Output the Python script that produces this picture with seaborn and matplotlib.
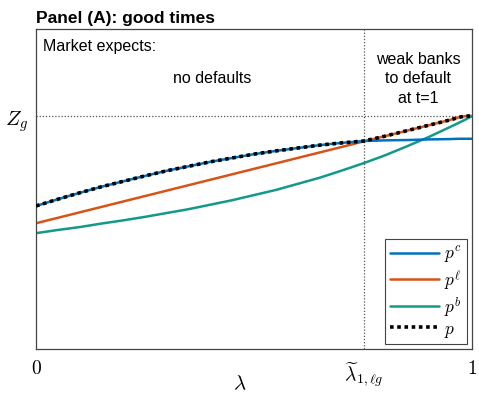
import matplotlib
matplotlib.use("Agg")
import matplotlib.pyplot as plt
import seaborn as sns

# lambda grid and price curves
lam = [0.0, 0.05, 0.1, 0.15, 0.2, 0.25, 0.3, 0.35, 0.4, 0.45, 0.5, 0.55, 0.6, 0.65, 0.7,
       0.752, 0.8, 0.85, 0.9, 0.95, 0.97, 0.985, 1.0]
p_c = [0.447, 0.468, 0.488, 0.507, 0.524, 0.541, 0.557, 0.571, 0.585, 0.597, 0.609, 0.619,
       0.628, 0.637, 0.644, 0.650, 0.652, 0.653, 0.655, 0.656, 0.657, 0.657, 0.657]
p_l = [0.393, 0.410, 0.427, 0.444, 0.461, 0.478, 0.495, 0.512, 0.529, 0.546, 0.563, 0.580,
       0.597, 0.614, 0.631, 0.649, 0.665, 0.682, 0.699, 0.716, 0.724, 0.728, 0.728]
p_b = [0.362, 0.372, 0.381, 0.392, 0.402, 0.413, 0.425, 0.437, 0.451, 0.465, 0.481, 0.497,
       0.516, 0.535, 0.557, 0.581, 0.605, 0.633, 0.662, 0.694, 0.707, 0.717, 0.728]
p = [0.447, 0.468, 0.488, 0.507, 0.524, 0.541, 0.557, 0.571, 0.585, 0.597, 0.609, 0.619,
     0.628, 0.637, 0.644, 0.650, 0.665, 0.682, 0.699, 0.716, 0.724, 0.728, 0.728]

z_g = 0.728
lam_tilde = 0.752

sns.set_style("white")
plt.rcParams["mathtext.fontset"] = "cm"
plt.rcParams["font.family"] = ["Liberation Sans", "DejaVu Sans"]
plt.rcParams["text.color"] = "black"
plt.rcParams["xtick.color"] = "black"
plt.rcParams["ytick.color"] = "black"
plt.rcParams["axes.labelcolor"] = "black"

fig = plt.figure(figsize=(4.79, 4.06), dpi=100)
ax = fig.add_axes([0.0752, 0.1379, 0.9102, 0.7882])

ax.axhline(z_g, color="#555555", linestyle=(0, (1, 1.5)), linewidth=0.9, zorder=1)
ax.axvline(lam_tilde, color="#555555", linestyle=(0, (1, 1.5)), linewidth=0.9, zorder=1)

sns.lineplot(x=lam, y=p_c, ax=ax, color="#0072BD", linewidth=1.8, label=r"$p^c$", zorder=3)
sns.lineplot(x=lam, y=p_l, ax=ax, color="#D95319", linewidth=1.8, label=r"$p^\ell$", zorder=2)
sns.lineplot(x=lam, y=p_b, ax=ax, color="#13998A", linewidth=1.8, label=r"$p^b$", zorder=2)
sns.lineplot(x=lam, y=p, ax=ax, color="black", linewidth=2.6, linestyle=(0, (1, 1)),
             label=r"$p$", zorder=4)

ax.set_xlim(0, 1)
ax.set_ylim(0, 1)
ax.set_xticks([0, lam_tilde, 1])
ax.set_xticklabels([r"$0$", r"$\widetilde{\lambda}_{1,\ell g}$", r"$1$"], fontsize=14)
ax.set_yticks([z_g])
ax.set_yticklabels([r"$Z_g$"], fontsize=15)
ax.tick_params(axis="x", length=0, pad=7)
ax.tick_params(axis="y", length=0, pad=6)
ax.set_xlabel("")
fig.text(0.5, 0.054, r"$\lambda$", fontsize=15, ha="center", va="center")

for s in ax.spines.values():
    s.set_color("#444444")
    s.set_linewidth(0.9)

ax.set_title("Panel (A): good times", loc="left", fontsize=12.5, fontweight="bold", pad=5)

ax.text(0.016, 0.947, "Market expects:", fontsize=11.5, ha="left", va="center")
ax.text(0.404, 0.847, "no defaults", fontsize=11.5, ha="center", va="center")
ax.text(0.876, 0.847, "weak banks\nto default\nat t=1", fontsize=11.5, ha="center",
        va="center", linespacing=1.35)

leg = ax.legend(loc="lower right", fontsize=12.5, handlelength=2.8, handletextpad=0.3,
                labelspacing=0.15, borderpad=0.3, fancybox=False, framealpha=1,
                borderaxespad=0.3)
leg.get_frame().set_edgecolor("#444444")
leg.get_frame().set_linewidth(0.8)

fig.savefig("out.png", dpi=100)
